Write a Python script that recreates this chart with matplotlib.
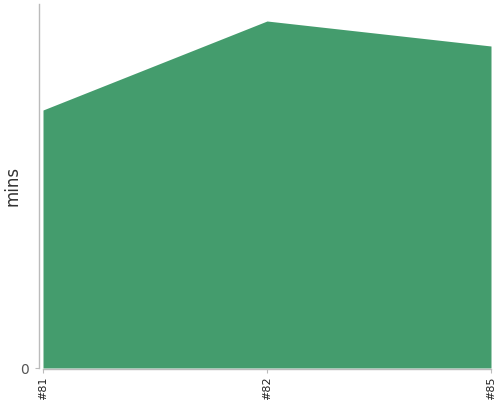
import matplotlib
matplotlib.use("Agg")
import matplotlib.pyplot as plt

# data
builds = ["#81", "#82", "#85"]
mins = [258, 347, 322]

fig = plt.figure(figsize=(5, 4), dpi=100)
ax = fig.add_axes([43 / 500, 1 - 368 / 400, 448 / 500, 364 / 400])

# spine positions first: moving them resets the tick objects
for side in ["top", "right"]:
    ax.spines[side].set_visible(False)
ax.spines["left"].set_position(("outward", 3))
ax.spines["bottom"].set_position(("outward", 1))
for side in ["left", "bottom"]:
    ax.spines[side].set_color("#bbbbbb")
    ax.spines[side].set_linewidth(1)

x = list(range(len(builds)))
ax.fill_between(x, 0, mins, color="#449c6d", linewidth=0)

ax.set_xlim(0, len(builds) - 1)
ax.set_ylim(0, 364)
ax.set_xticks(x)
ax.set_xticklabels(builds, rotation=90, fontsize=8, color="#222222")
ax.set_yticks([0])
ax.set_yticklabels(["0"], fontsize=10, color="#555555")
ax.set_ylabel("mins", fontsize=12, color="#333333")
ax.yaxis.set_label_coords(-0.047, 0.5)

ax.tick_params(axis="x", length=3, color="#bbbbbb", pad=2)
ax.tick_params(axis="y", length=3, color="#bbbbbb", pad=4)

fig.savefig("out.png", dpi=100)
